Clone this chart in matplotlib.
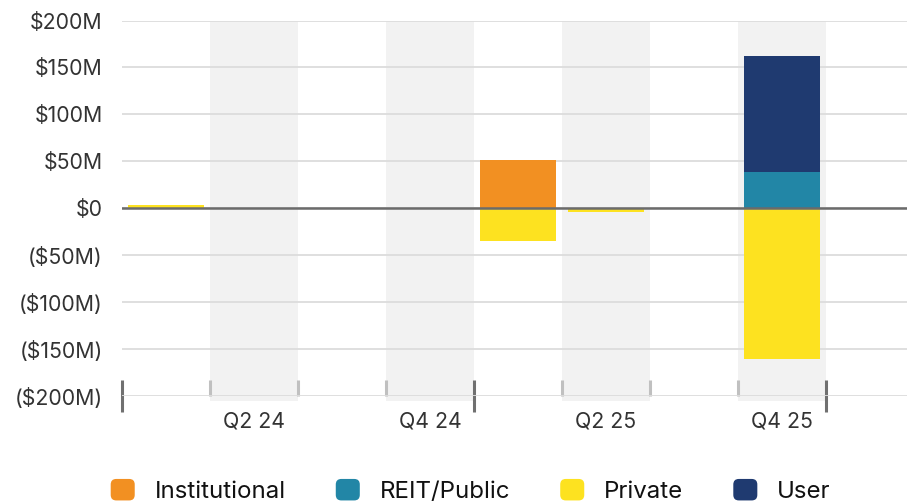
import matplotlib
matplotlib.use('Agg')
import matplotlib.pyplot as plt
from matplotlib.patches import FancyBboxPatch, Patch
from matplotlib.legend_handler import HandlerPatch
import numpy as np

plt.rcParams['font.family'] = ['Inter', 'DejaVu Sans']

# データ（単位: 百万ドル）
quarters = ['Q1 24', 'Q2 24', 'Q3 24', 'Q4 24', 'Q1 25', 'Q2 25', 'Q3 25', 'Q4 25']
institutional = [0, 0, 0, 0, 51, 0, 0, 0]
reit_public = [0, 0, 0, 0, 0, 0, 0, 39]
private = [4, 0, 0, 0, -35, -3.5, 0, -161]
user = [0, 0, 0, 0, 0, 0, 0, 123]

series = [
    ('Institutional', institutional, '#F29022'),
    ('REIT/Public', reit_public, '#2286A6'),
    ('Private', private, '#FDE220'),
    ('User', user, '#1F3A70'),
]

TEXT_COLOR = '#333333'
GRID_COLOR = '#dcdcdc'
BAND_COLOR = '#f2f2f2'

fig = plt.figure(figsize=(9.07, 5.03), dpi=100)
ax = fig.add_axes([0.1345, 0.2127, 0.8655, 0.7465])

x = np.arange(len(quarters))

# 背景の帯（偶数四半期）
for i in x[1::2]:
    ax.axvspan(i - 0.5, i + 0.5, ymin=-0.013, ymax=1, color=BAND_COLOR,
               zorder=0, lw=0, clip_on=False)

# 積み上げ棒（正は上、負は下へ）
pos_base = np.zeros(len(x))
neg_base = np.zeros(len(x))
for name, vals, color in series:
    vals = np.array(vals, dtype=float)
    bottoms = np.where(vals >= 0, pos_base, neg_base)
    mask = vals != 0
    ax.bar(x[mask], vals[mask], bottom=bottoms[mask], width=0.87,
           color=color, linewidth=0, zorder=3)
    pos_base += np.where(vals > 0, vals, 0)
    neg_base += np.where(vals < 0, vals, 0)

ax.axhline(0, color='#6b6b6b', linewidth=1.8, zorder=4)

ax.set_xlim(-0.5, 8.42)
ax.set_ylim(-200, 200)
ax.set_yticks(np.arange(-200, 201, 50))
ax.yaxis.set_major_formatter(plt.FuncFormatter(
    lambda v, _: f'${v:.0f}M' if v > 0 else ('$0' if v == 0 else f'(${-v:.0f}M)')))
ax.grid(axis='y', color=GRID_COLOR, linewidth=1.3, zorder=1)
ax.set_axisbelow(False)
for s in ax.spines.values():
    s.set_visible(False)
ax.tick_params(axis='y', length=0, pad=14, labelsize=15.3, labelcolor=TEXT_COLOR)

# x 軸の目盛り（年の区切り = 大、帯の端 = 小）
ax.set_xticks([-0.5, 3.5, 7.5])
ax.set_xticks([0.5, 1.5, 2.5, 4.5, 5.5, 6.5], minor=True)
ax.tick_params(axis='x', which='major', direction='inout', length=23, width=2.2,
               color='#707070', labelbottom=False)
ax.tick_params(axis='x', which='minor', direction='in', length=11.5, width=2.2,
               color='#c0c0c0', labelbottom=False)

sec = ax.secondary_xaxis('bottom')
sec.set_xticks(x[1::2], [quarters[i] for i in x[1::2]])
sec.tick_params(length=0, pad=11, labelsize=15.3, labelcolor=TEXT_COLOR)
sec.spines['bottom'].set_visible(False)


class RoundedHandler(HandlerPatch):
    def create_artists(self, legend, orig_handle, xdescent, ydescent,
                       width, height, fontsize, trans):
        p = FancyBboxPatch((-xdescent, -ydescent), width, height,
                           boxstyle='round,pad=0,rounding_size=4',
                           facecolor=orig_handle.get_facecolor(), linewidth=0,
                           transform=trans)
        return [p]


handles = [Patch(facecolor=c, label=n) for n, _, c in series]
fig.legend(handles=handles, loc='center', bbox_to_anchor=(0.519, 0.024), ncol=4,
           frameon=False, fontsize=17.3, handlelength=1.0, handleheight=1.0,
           handletextpad=0.83, columnspacing=2.08, labelcolor='#111111',
           handler_map={Patch: RoundedHandler()})

fig.savefig('out.png', dpi=100, facecolor='white')
